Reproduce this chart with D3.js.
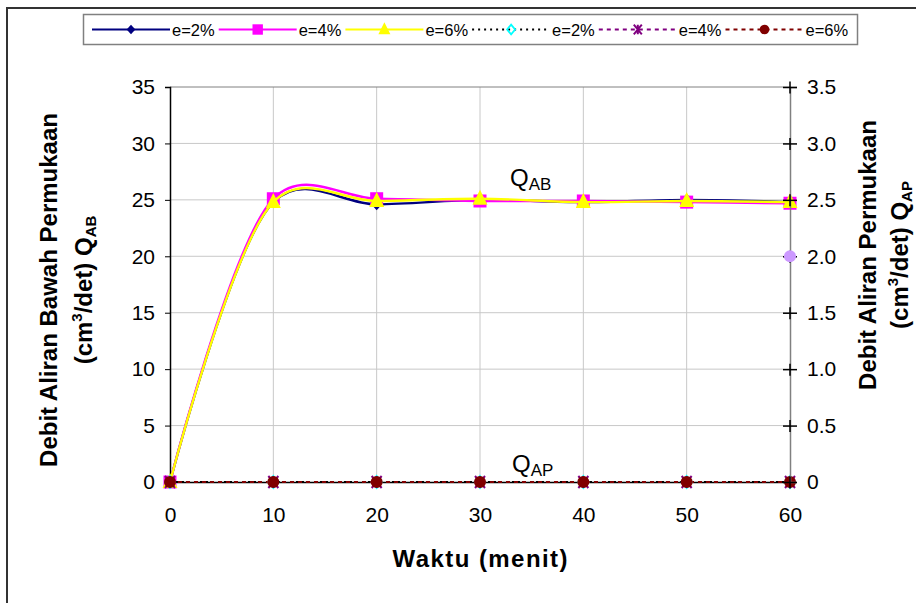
<!DOCTYPE html>
<html><head><meta charset="utf-8">
<script src="https://cdn.jsdelivr.net/npm/d3@7"></script>
<style>body{margin:0;background:#fff}svg{display:block;font-family:"Liberation Sans",Arial,sans-serif}</style>
</head><body>
<svg id="c" width="916" height="603"></svg>
<script>
const times = [0, 10, 20, 30, 40, 50, 60];
const qab2 = [0, 24.8, 24.6, 25.0, 24.8, 25.0, 24.8];
const qab4 = [0, 25.1, 25.1, 24.9, 24.9, 24.8, 24.7];
const qab6 = [0, 24.8, 24.9, 25.1, 24.8, 24.9, 24.8];
const qap2 = [0, 0, 0, 0, 0, 0, 0];
const qap4 = [0, 0, 0, 0, 0, 0, 0];
const qap6 = [0, 0, 0, 0, 0, 0, 0];
const extraPoint = [{t: 60, v: 2.0}];
const leftTicks = [0, 5, 10, 15, 20, 25, 30, 35];
const rightTicks = [0, 0.5, 1.0, 1.5, 2.0, 2.5, 3.0, 3.5];
const xTicks = [0, 10, 20, 30, 40, 50, 60];
const legendLabels = ["e=2%", "e=4%", "e=6%", "e=2%", "e=4%", "e=6%"];

const FONT = "Liberation Sans, Arial, sans-serif";
const svg = d3.select("#c");
const x = d3.scaleLinear().domain([0, 60]).range([170, 790]);
const yL = d3.scaleLinear().domain([0, 35]).range([482, 87]);
const yR = d3.scaleLinear().domain([0, 3.5]).range([482, 87]);

svg.append("path").attr("d", "M7,610V8H920").attr("fill", "none").attr("stroke", "#333").attr("stroke-width", 2);

svg.append("g").selectAll("line").data(leftTicks.filter(d => d > 0 && d < 35)).join("line")
  .attr("x1", 170).attr("x2", 790).attr("y1", d => yL(d)).attr("y2", d => yL(d))
  .attr("stroke", "#c8c8c8").attr("stroke-width", 1);
svg.append("g").selectAll("line").data(xTicks.filter(d => d > 0 && d < 60)).join("line")
  .attr("y1", 87).attr("y2", 482).attr("x1", d => x(d)).attr("x2", d => x(d))
  .attr("stroke", "#c8c8c8").attr("stroke-width", 1);
svg.append("line").attr("x1", 170).attr("x2", 790).attr("y1", 87).attr("y2", 87).attr("stroke", "#808080");

const gL = svg.append("g").attr("transform", "translate(170,0)")
  .call(d3.axisLeft(yL).tickValues(leftTicks).tickSize(5).tickPadding(10).tickFormat(d3.format("d")));
gL.select(".domain").attr("stroke", "#000").attr("stroke-width", 1.5);
gL.selectAll("text").attr("font-size", 21).attr("fill", "#000").attr("font-family", FONT);

const gB = svg.append("g").attr("transform", "translate(0,482)")
  .call(d3.axisBottom(x).tickValues(xTicks).tickSize(5).tickPadding(20));
gB.select(".domain").attr("stroke", "#000").attr("stroke-width", 1.5);
gB.selectAll("text").attr("font-size", 21).attr("fill", "#000").attr("font-family", FONT);

function marker(g, type, color, cx, cy, s = 1) {
  if (type === "diamond") g.append("path").attr("d", `M${cx},${cy-6*s}L${cx+5.5*s},${cy}L${cx},${cy+6*s}L${cx-5.5*s},${cy}Z`).attr("fill", color);
  else if (type === "square") g.append("rect").attr("x", cx-6.5*s).attr("y", cy-6.5*s).attr("width", 13*s).attr("height", 13*s).attr("fill", color);
  else if (type === "triangle") g.append("path").attr("d", `M${cx},${cy-9*s}L${cx+7.5*s},${cy+6*s}L${cx-7.5*s},${cy+6*s}Z`).attr("fill", color);
  else if (type === "hdiamond") g.append("path").attr("d", `M${cx},${cy-6*s}L${cx+5*s},${cy}L${cx},${cy+6*s}L${cx-5*s},${cy}Z`).attr("fill", "none").attr("stroke", color).attr("stroke-width", 1.8);
  else if (type === "star") g.append("path").attr("d", `M${cx-5*s},${cy-6*s}L${cx+5*s},${cy+6*s}M${cx+5*s},${cy-6*s}L${cx-5*s},${cy+6*s}M${cx},${cy-6*s}V${cy+6*s}`).attr("stroke", color).attr("stroke-width", 2).attr("fill", "none");
  else if (type === "circle") g.append("circle").attr("cx", cx).attr("cy", cy).attr("r", 6*s).attr("fill", color);
}

const qab = [
  {vals: qab2, color: "#000080", m: "diamond"},
  {vals: qab4, color: "#FF00FF", m: "square"},
  {vals: qab6, color: "#FFFF00", m: "triangle"}
];
const qap = [
  {vals: qap2, color: "#000000", mcolor: "#00FFFF", m: "hdiamond", dash: "2,4"},
  {vals: qap4, color: "#800080", mcolor: "#800080", m: "star", dash: "4,4"},
  {vals: qap6, color: "#800000", mcolor: "#800000", m: "circle", dash: "4,4"}
];

const line = d3.line().curve(d3.curveCatmullRom.alpha(0.25));

qab.forEach(s => {
  const pts = times.map((t, i) => [x(t), yL(s.vals[i])]);
  svg.append("path").attr("d", line(pts)).attr("fill", "none").attr("stroke", s.color).attr("stroke-width", 2.4);
  const g = svg.append("g");
  times.forEach((t, i) => marker(g, s.m, s.color, x(t), yL(s.vals[i])));
});

qap.forEach(s => {
  const pts = times.map((t, i) => [x(t), yR(s.vals[i])]);
  svg.append("path").attr("d", d3.line()(pts)).attr("fill", "none").attr("stroke", s.color).attr("stroke-width", 2).attr("stroke-dasharray", s.dash);
});
qap.forEach(s => {
  const g = svg.append("g");
  times.forEach((t, i) => marker(g, s.m, s.mcolor, x(t), yR(s.vals[i])));
});

const gR = svg.append("g").attr("transform", "translate(790,0)")
  .call(d3.axisRight(yR).tickValues(rightTicks).tickSize(7).tickPadding(10).tickFormat(d => d === 0 ? "0" : d3.format(".1f")(d)));
gR.select(".domain").attr("stroke", "#808080").attr("stroke-width", 1.5);
gR.selectAll(".tick line").attr("x1", -7).attr("x2", 7).attr("stroke", "#000").attr("stroke-width", 1.5);
gR.selectAll(".tick").append("line").attr("y1", -6).attr("y2", 6).attr("stroke", "#000").attr("stroke-width", 1.5);
gR.selectAll("text").attr("font-size", 21).attr("fill", "#000").attr("font-family", FONT);

svg.selectAll(".extra").data(extraPoint).join("circle").attr("class", "extra")
  .attr("cx", d => x(d.t)).attr("cy", d => yR(d.v)).attr("r", 6).attr("fill", "#CC99FF");

function qlabel(xp, yp, sub) {
  const t = svg.append("text").attr("x", xp).attr("y", yp).attr("font-size", 24).attr("fill", "#000");
  t.append("tspan").text("Q");
  t.append("tspan").attr("font-size", 17).attr("dy", 4).text(sub);
}
qlabel(510, 186, "AB");
qlabel(512, 472, "AP");

svg.append("text").attr("x", 480).attr("y", 567).attr("text-anchor", "middle")
  .attr("font-size", 24).attr("font-weight", "bold").attr("textLength", 175).attr("lengthAdjust", "spacing")
  .text("Waktu (menit)");

function ytitle(cx, cy, l1, sub, gap) {
  const g = svg.append("g").attr("transform", `translate(${cx},${cy}) rotate(-90)`);
  g.append("text").attr("x", 0).attr("y", 0).attr("text-anchor", "middle").attr("font-size", 24).attr("font-weight", "bold").text(l1);
  const t = g.append("text").attr("x", 0).attr("y", gap).attr("text-anchor", "middle").attr("font-size", 24).attr("font-weight", "bold");
  t.append("tspan").text("(cm");
  t.append("tspan").attr("font-size", 15).attr("dy", -10).text("3");
  t.append("tspan").attr("dy", 10).text("/det) Q");
  t.append("tspan").attr("font-size", 15).attr("dy", 4).text(sub);
}
ytitle(57, 290, "Debit Aliran Bawah Permukaan", "AB", 35);
ytitle(876, 255, "Debit Aliran Permukaan", "AP", 32);

svg.append("rect").attr("x", 83.5).attr("y", 14.5).attr("width", 774).attr("height", 30)
  .attr("fill", "#fff").attr("stroke", "#808080").attr("stroke-width", 1.5);
const legItems = [
  {color: "#000080", mcolor: "#000080", m: "diamond", dash: null},
  {color: "#FF00FF", mcolor: "#FF00FF", m: "square", dash: null},
  {color: "#FFFF00", mcolor: "#FFFF00", m: "triangle", dash: null},
  {color: "#000000", mcolor: "#00FFFF", m: "hdiamond", dash: "2,4"},
  {color: "#800080", mcolor: "#800080", m: "star", dash: "4,4"},
  {color: "#800000", mcolor: "#800000", m: "circle", dash: "4,4"}
];
legItems.forEach((it, i) => {
  const x0 = 92 + i * 126.7;
  const ly = 29.5;
  const g = svg.append("g");
  g.append("line").attr("x1", x0).attr("x2", x0 + 78).attr("y1", ly).attr("y2", ly)
    .attr("stroke", it.color).attr("stroke-width", 2).attr("stroke-dasharray", it.dash);
  marker(g, it.m, it.mcolor, x0 + 39, ly, 0.8);
  g.append("text").attr("x", x0 + 80).attr("y", ly + 6).attr("font-size", 16.5).attr("font-family", FONT).text(legendLabels[i]);
});
</script>
</body></html>
